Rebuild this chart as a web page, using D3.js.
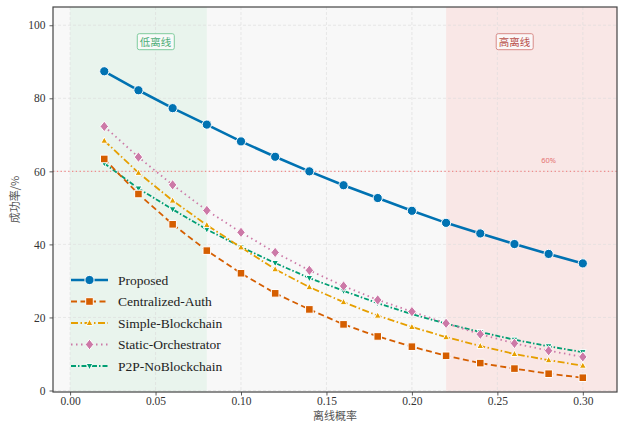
<!DOCTYPE html>
<html>
<head>
<meta charset="utf-8">
<script src="https://cdn.jsdelivr.net/npm/d3@7"></script>
<style>
  body { margin: 0; background: #fff; }
  svg { display: block; }
</style>
</head>
<body>
<svg id="chart"></svg>
<script>
// data
const xValues = [0.02, 0.04, 0.06, 0.08, 0.10, 0.12, 0.14, 0.16, 0.18, 0.20, 0.22, 0.24, 0.26, 0.28, 0.30];
const proposed = [87.4, 82.2, 77.3, 72.8, 68.2, 64.0, 60.0, 56.2, 52.7, 49.2, 45.9, 43.0, 40.1, 37.4, 34.8];
const centralizedAuth = [63.4, 53.8, 45.5, 38.3, 32.1, 26.6, 22.2, 18.1, 14.8, 12.0, 9.5, 7.5, 6.0, 4.6, 3.5];
const simpleBlockchain = [68.4, 59.6, 52.0, 45.3, 39.2, 33.2, 28.3, 24.2, 20.5, 17.4, 14.6, 12.2, 10.0, 8.3, 6.8];
const staticOrchestrator = [72.3, 63.9, 56.3, 49.3, 43.3, 37.8, 32.9, 28.6, 24.8, 21.6, 18.4, 15.4, 12.9, 10.9, 9.2];
const p2pNoBlockchain = [62.2, 55.3, 49.6, 44.1, 39.3, 34.9, 30.8, 27.3, 23.9, 20.9, 18.3, 16.0, 13.9, 12.1, 10.5];
const xTicks = [0.00, 0.05, 0.10, 0.15, 0.20, 0.25, 0.30];
const yTicks = [0, 20, 40, 60, 80, 100];

const seriesList = [
  { name: "Proposed", values: proposed, color: "#0072B2", dash: null, marker: "circle", width: 2.6 },
  { name: "Centralized-Auth", values: centralizedAuth, color: "#D55E00", dash: "6,3.5", marker: "square", width: 1.8 },
  { name: "Simple-Blockchain", values: simpleBlockchain, color: "#E69F00", dash: "7,2.5,1.5,2.5", marker: "triangle", width: 1.8 },
  { name: "Static-Orchestrator", values: staticOrchestrator, color: "#CC79A7", dash: "1.5,3.5", marker: "diamond", width: 1.8 },
  { name: "P2P-NoBlockchain", values: p2pNoBlockchain, color: "#009E73", dash: "5,2,1.5,2", marker: "triangleDown", width: 1.8 }
];

const serif = "'Liberation Serif', 'Times New Roman', serif";
const cjk = "'Noto Sans CJK SC', sans-serif";

const width = 622, height = 426;
const margin = { top: 7, right: 5, bottom: 34, left: 53 };

const svg = d3.select("#chart").attr("width", width).attr("height", height);

const x = d3.scaleLinear().domain([-0.01, 0.32]).range([margin.left, width - margin.right]);
const y = d3.scaleLinear().domain([0, 105]).range([height - margin.bottom - 1.5, margin.top]);

const x0 = margin.left, x1 = width - margin.right;
const y0 = margin.top, y1 = height - margin.bottom;

// plot background
svg.append("rect")
  .attr("x", x0).attr("y", y0)
  .attr("width", x1 - x0).attr("height", y1 - y0)
  .attr("fill", "#f8f8f8");

// shaded regions
svg.append("rect")
  .attr("x", x(0)).attr("y", y0)
  .attr("width", x(0.08) - x(0)).attr("height", y1 - y0)
  .attr("fill", "#e9f4ed");
svg.append("rect")
  .attr("x", x(0.22)).attr("y", y0)
  .attr("width", x1 - x(0.22)).attr("height", y1 - y0)
  .attr("fill", "#f9e7e6");

// grid
const grid = svg.append("g").attr("stroke", "#dcdcdc").attr("stroke-width", 0.6).attr("stroke-dasharray", "3,2");
xTicks.forEach(t => grid.append("line").attr("x1", x(t)).attr("x2", x(t)).attr("y1", y0).attr("y2", y1));
yTicks.forEach(t => grid.append("line").attr("x1", x0).attr("x2", x1).attr("y1", y(t)).attr("y2", y(t)));

// 60% reference line
svg.append("line")
  .attr("x1", x0).attr("x2", x1)
  .attr("y1", y(60)).attr("y2", y(60))
  .attr("stroke", "#f08c8c").attr("stroke-width", 1.3)
  .attr("stroke-dasharray", "1.3,2.5");
svg.append("text")
  .attr("x", x(0.28)).attr("y", y(60) - 8)
  .attr("text-anchor", "middle")
  .style("font-family", "'Noto Sans', sans-serif")
  .style("font-size", "7.5px")
  .attr("fill", "#e57373")
  .text("60%");

// region labels
function boxLabel(cx, cy, text, textColor, borderColor) {
  const g = svg.append("g");
  const t = g.append("text")
    .attr("x", cx).attr("y", cy)
    .attr("text-anchor", "middle").attr("dominant-baseline", "central")
    .style("font-family", cjk)
    .style("font-size", "10.5px")
    .attr("fill", textColor)
    .text(text);
  const b = t.node().getBBox();
  g.insert("rect", "text")
    .attr("x", b.x - 2.5).attr("y", b.y - 0.5)
    .attr("width", b.width + 5).attr("height", b.height + 1)
    .attr("rx", 2)
    .attr("fill", "#fbfbfb").attr("fill-opacity", 0.8)
    .attr("stroke", borderColor).attr("stroke-width", 1);
}
boxLabel(x(0.05), y(95.5), "低离线", "#4fae78", "#7fcb9d");
boxLabel(x(0.26), y(95.5), "高离线", "#b9504a", "#d88c88");

// series
const line = d3.line().x((d, i) => x(xValues[i])).y(d => y(d));

function markerPath(type, size) {
  const s = size;
  switch (type) {
    case "square": return `M${-s},${-s}H${s}V${s}H${-s}Z`;
    case "triangle": return `M0,${-s * 1.1}L${s},${s * 0.75}L${-s},${s * 0.75}Z`;
    case "triangleDown": return `M0,${s * 1.1}L${s},${-s * 0.75}L${-s},${-s * 0.75}Z`;
    case "diamond": return `M0,${-s * 1.25}L${s},0L0,${s * 1.25}L${-s},0Z`;
    default: return d3.symbol(d3.symbolCircle, Math.PI * s * s)();
  }
}
const markerSize = { circle: 4.6, square: 3.8, triangle: 3.4, triangleDown: 3.4, diamond: 4.2 };

seriesList.slice().reverse().forEach(s => {
  svg.append("path")
    .datum(s.values)
    .attr("d", line)
    .attr("fill", "none")
    .attr("stroke", s.color)
    .attr("stroke-width", s.width)
    .attr("stroke-dasharray", s.dash);
  svg.append("g").selectAll("path")
    .data(s.values)
    .join("path")
    .attr("transform", (d, i) => `translate(${x(xValues[i])},${y(d)})`)
    .attr("d", markerPath(s.marker, markerSize[s.marker]))
    .attr("fill", s.color)
    .attr("stroke", "#fff")
    .attr("stroke-width", 1);
});

// axes
const xAxis = svg.append("g")
  .attr("transform", `translate(0,${y1})`)
  .call(d3.axisBottom(x).tickValues(xTicks).tickFormat(d3.format(".2f")).tickSize(3.5).tickPadding(1.5).tickSizeOuter(0));
const yAxis = svg.append("g")
  .attr("transform", `translate(${x0},0)`)
  .call(d3.axisLeft(y).tickValues(yTicks).tickSize(3.5).tickPadding(4).tickSizeOuter(0));
[xAxis, yAxis].forEach(a => {
  a.attr("font-family", null).attr("font-size", null);
  a.select(".domain").remove();
  a.selectAll(".tick line").attr("stroke", "#333").attr("stroke-width", 0.8);
  a.selectAll(".tick text")
    .style("font-family", serif)
    .style("font-size", "11.5px")
    .attr("fill", "#333");
});

// frame
svg.append("rect")
  .attr("x", x0).attr("y", y0)
  .attr("width", x1 - x0).attr("height", y1 - y0)
  .attr("fill", "none")
  .attr("stroke", "#444").attr("stroke-width", 1.2);

// axis titles
svg.append("text")
  .attr("x", (x0 + x1) / 2).attr("y", height - 6)
  .attr("text-anchor", "middle")
  .style("font-family", cjk)
  .style("font-size", "11px")
  .attr("fill", "#555")
  .text("离线概率");
svg.append("text")
  .attr("transform", `translate(19,${(y0 + y1) / 2}) rotate(-90)`)
  .attr("text-anchor", "middle")
  .style("font-family", cjk)
  .style("font-size", "11px")
  .attr("fill", "#555")
  .text("成功率/%");

// legend
const legend = svg.append("g").attr("transform", "translate(71,280)");
seriesList.forEach((s, i) => {
  const row = legend.append("g").attr("transform", `translate(0,${i * 21.5})`);
  row.append("line")
    .attr("x1", 0).attr("x2", 37).attr("y1", 0).attr("y2", 0)
    .attr("stroke", s.color).attr("stroke-width", s.width)
    .attr("stroke-dasharray", s.dash);
  row.append("path")
    .attr("transform", "translate(18.5,0)")
    .attr("d", markerPath(s.marker, markerSize[s.marker]))
    .attr("fill", s.color).attr("stroke", "#fff").attr("stroke-width", 1);
  row.append("text")
    .attr("x", 47).attr("y", 0)
    .attr("dominant-baseline", "central")
    .style("font-family", serif)
    .style("font-size", "13.5px")
    .attr("fill", "#222")
    .text(s.name);
});
</script>
</body>
</html>
